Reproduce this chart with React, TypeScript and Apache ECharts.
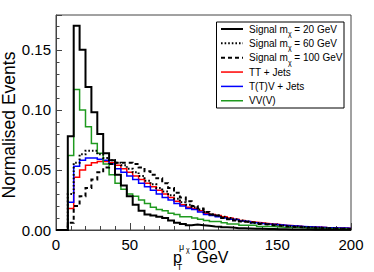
import React, { useEffect, useRef } from "react";
import * as echarts from "echarts";

// Bin lower edges (GeV), 4 GeV bins from 0 to 200, plus the upper edge 200
const binEdges = [
  0, 4, 8, 12, 16, 20, 24, 28, 32, 36, 40, 44, 48, 52, 56, 60, 64, 68, 72, 76,
  80, 84, 88, 92, 96, 100, 104, 108, 112, 116, 120, 124, 128, 132, 136, 140, 144, 148, 152, 156,
  160, 164, 168, 172, 176, 180, 184, 188, 192, 196, 200,
];

const signal20 = [
  0, 0, 0.078, 0.170, 0.150, 0.119, 0.098, 0.080, 0.064, 0.058,
  0.046, 0.037, 0.028, 0.021, 0.016, 0.013, 0.012, 0.011, 0.010, 0.008,
  0.006, 0.005, 0.004, 0.0045, 0.004, 0.0035, 0.003, 0.0028, 0.0022, 0.002,
  0.0015, 0.0015, 0.0012, 0.001, 0.001, 0.0008, 0.0008, 0.0006, 0.0006, 0.0005,
  0.0005, 0.0004, 0.0004, 0.0003, 0.0003, 0.0003, 0.0002, 0.0002, 0.0002, 0.0002,
];

const signal60 = [
  0, 0, 0.030, 0.056, 0.063, 0.066, 0.066, 0.063, 0.060, 0.058,
  0.056, 0.054, 0.051, 0.048, 0.045, 0.041, 0.038, 0.035, 0.032, 0.029,
  0.026, 0.023, 0.021, 0.019, 0.017, 0.015, 0.013, 0.012, 0.011, 0.010,
  0.009, 0.008, 0.007, 0.006, 0.0055, 0.005, 0.0045, 0.004, 0.0035, 0.003,
  0.003, 0.0025, 0.0022, 0.002, 0.0018, 0.0016, 0.0014, 0.0012, 0.001, 0.001,
];

const signal100 = [
  0, 0, 0.006, 0.020, 0.028, 0.035, 0.042, 0.048, 0.052, 0.055,
  0.056, 0.056, 0.056, 0.055, 0.052, 0.049, 0.046, 0.043, 0.039, 0.035,
  0.031, 0.027, 0.024, 0.020, 0.018, 0.015, 0.013, 0.012, 0.010, 0.009,
  0.008, 0.007, 0.0065, 0.006, 0.005, 0.0045, 0.004, 0.0035, 0.003, 0.0028,
  0.0025, 0.0022, 0.002, 0.0018, 0.0016, 0.0014, 0.0012, 0.001, 0.001, 0.0008,
];

const ttJets = [
  0, 0, 0.018, 0.044, 0.050, 0.054, 0.056, 0.057, 0.057, 0.056,
  0.054, 0.051, 0.048, 0.045, 0.042, 0.039, 0.036, 0.033, 0.030, 0.027,
  0.024, 0.021, 0.019, 0.018, 0.016, 0.014, 0.013, 0.012, 0.011, 0.010,
  0.009, 0.008, 0.007, 0.0065, 0.006, 0.0055, 0.005, 0.0045, 0.004, 0.0037,
  0.0034, 0.003, 0.0028, 0.0025, 0.0023, 0.002, 0.0019, 0.0017, 0.0016, 0.0015,
];

const ttvJets = [
  0, 0, 0.023, 0.053, 0.058, 0.060, 0.060, 0.059, 0.058, 0.055,
  0.051, 0.048, 0.045, 0.042, 0.039, 0.036, 0.033, 0.030, 0.027, 0.025,
  0.022, 0.020, 0.018, 0.017, 0.015, 0.013, 0.012, 0.011, 0.010, 0.009,
  0.0085, 0.0075, 0.007, 0.006, 0.0055, 0.005, 0.0047, 0.0043, 0.004, 0.0036,
  0.0033, 0.003, 0.0028, 0.0025, 0.0023, 0.002, 0.0019, 0.0017, 0.0016, 0.0015,
];

const vvv = [
  0, 0, 0.062, 0.117, 0.100, 0.086, 0.072, 0.064, 0.055, 0.046,
  0.039, 0.034, 0.030, 0.028, 0.025, 0.022, 0.019, 0.017, 0.016, 0.014,
  0.013, 0.011, 0.011, 0.010, 0.009, 0.008, 0.007, 0.007, 0.006, 0.005,
  0.005, 0.004, 0.004, 0.004, 0.003, 0.003, 0.003, 0.0025, 0.0022, 0.002,
  0.002, 0.0018, 0.0016, 0.0015, 0.0013, 0.0012, 0.0011, 0.001, 0.001, 0.0009,
];

const xTitleMain = "p";
const xTitleSub = "T";
const xTitleSup = "μ";
const xTitleSupSub = "χ";
const xTitleUnit = "GeV";
const yTitle = "Normalised Events";

const legendTexts = [
  "{a|Signal m}{s|χ}{a| = 20 GeV}",
  "{a|Signal m}{s|χ}{a| = 60 GeV}",
  "{a|Signal m}{s|χ}{a| = 100 GeV}",
  "{a|TT + Jets}",
  "{a|T(T)V + Jets}",
  "{a|VV(V)}",
];

const FONT = '"Liberation Sans", Arial, Helvetica, sans-serif';

type SeriesDef = {
  name: string;
  values: number[];
  color: string;
  width: number;
  dash: number[] | "solid";
};

const seriesDefs: SeriesDef[] = [
  { name: "TT + Jets", values: ttJets, color: "#ff0000", width: 1.5, dash: "solid" },
  { name: "T(T)V + Jets", values: ttvJets, color: "#0000ff", width: 1.5, dash: "solid" },
  { name: "VV(V)", values: vvv, color: "#1f9a1f", width: 1.5, dash: "solid" },
  { name: "Signal 100", values: signal100, color: "#000000", width: 2, dash: [4, 3] },
  { name: "Signal 60", values: signal60, color: "#000000", width: 2, dash: [1.6, 2] },
  { name: "Signal 20", values: signal20, color: "#000000", width: 2, dash: "solid" },
];

const legendStyles: { color: string; width: number; dash: number[] | null }[] = [
  { color: "#000000", width: 2, dash: null },
  { color: "#000000", width: 2, dash: [1.6, 2] },
  { color: "#000000", width: 2, dash: [4, 3] },
  { color: "#ff0000", width: 1.5, dash: null },
  { color: "#0000ff", width: 1.5, dash: null },
  { color: "#1f9a1f", width: 1.5, dash: null },
];

function toSteps(values: number[]): [number, number][] {
  const pts: [number, number][] = values.map((v, i) => [binEdges[i], v]);
  pts.push([binEdges[binEdges.length - 1], values[values.length - 1]]);
  return pts;
}

function txt(text: string, x: number, y: number, fontSize: number, lineHeight: number): any {
  return {
    type: "text",
    x,
    y,
    style: {
      text,
      fontSize,
      lineHeight,
      fontFamily: FONT,
      fill: "#000",
      align: "left",
      verticalAlign: "middle",
    },
  };
}

function buildOption(): any {
  const legendTop = 29;
  const legendStep = 14.35;
  const legendGraphics: any[] = [
    {
      type: "rect",
      shape: { x: 216.5, y: 22, width: 127.5, height: 86 },
      style: { fill: "#ffffff", stroke: "#000000", lineWidth: 1 },
      z: 10,
    },
  ];
  legendTexts.forEach((t, i) => {
    const y = legendTop + i * legendStep;
    const st = legendStyles[i];
    legendGraphics.push({
      type: "line",
      shape: { x1: 221, y1: y, x2: 243, y2: y },
      style: {
        stroke: st.color,
        lineWidth: st.width,
        lineDash: st.dash || undefined,
      },
      z: 11,
    });
    legendGraphics.push({
      type: "text",
      x: 249,
      y: y,
      z: 11,
      style: {
        text: t,
        verticalAlign: "middle",
        align: "left",
        fill: "#000",
        rich: {
          a: { fontSize: 10, fontFamily: FONT, fill: "#000", lineHeight: 16 },
          s: { fontSize: 7, fontFamily: FONT, fill: "#000", lineHeight: 9, verticalAlign: "bottom" },
        },
      },
    });
  });

  const titleGraphics: any[] = [
    {
      type: "text",
      x: 9,
      y: 125,
      rotation: Math.PI / 2,
      style: { text: yTitle, fontSize: 17.5, fontFamily: FONT, fill: "#000", align: "center", verticalAlign: "middle" },
    },
    txt(xTitleMain, 173, 257, 16, 10),
    txt(xTitleSub, 176.8, 267.3, 9, 6),
    txt(xTitleSup, 179, 246.5, 9, 6),
    txt(xTitleSupSub, 186, 249.3, 7, 4),
    txt(xTitleUnit, 196.5, 257, 16, 10),
  ];

  const yMax = 0.179;

  return {
    animation: false,
    backgroundColor: "#ffffff",
    textStyle: { fontFamily: FONT },
    grid: {
      left: 56,
      right: 23,
      top: 15,
      bottom: 42,
      show: true,
      borderColor: "#444",
      borderWidth: 1,
      backgroundColor: "transparent",
    },
    xAxis: {
      type: "value",
      min: 0,
      max: 200,
      interval: 50,
      axisLine: { show: true, onZero: false, lineStyle: { color: "#444", width: 1 } },
      axisTick: { show: true, inside: true, length: 7, lineStyle: { color: "#444" } },
      minorTick: { show: true, splitNumber: 5, length: 4, lineStyle: { color: "#444" } },
      axisLabel: { fontSize: 15, lineHeight: 13, color: "#000", margin: 8, fontFamily: FONT },
      splitLine: { show: false },
      minorSplitLine: { show: false },
    },
    yAxis: [
      {
        type: "value",
        min: 0,
        max: yMax,
        interval: 0.01,
        axisLine: { show: true, onZero: false, lineStyle: { color: "#444", width: 1 } },
        axisTick: { show: true, inside: true, length: 3.5, lineStyle: { color: "#444" } },
        axisLabel: {
          fontSize: 15,
          color: "#000",
          margin: 5,
          fontFamily: FONT,
          showMaxLabel: false,
          formatter: (v: number) => {
            const k = v / 0.05;
            return Math.abs(k - Math.round(k)) < 1e-6 ? v.toFixed(2) : "";
          },
        },
        splitLine: { show: false },
      },
      {
        type: "value",
        min: 0,
        max: yMax,
        interval: 0.05,
        position: "left",
        axisLine: { show: false },
        axisTick: { show: true, inside: true, length: 6, lineStyle: { color: "#444" } },
        axisLabel: { show: false },
        splitLine: { show: false },
      },
    ],
    series: seriesDefs.map((s) => ({
      name: s.name,
      type: "line",
      step: "end",
      yAxisIndex: 0,
      symbol: "none",
      showSymbol: false,
      data: toSteps(s.values),
      lineStyle: { color: s.color, width: s.width, type: s.dash, cap: "butt", join: "miter" },
      itemStyle: { color: s.color },
      emphasis: { disabled: true },
      silent: true,
    })),
    graphic: [...legendGraphics, ...titleGraphics],
  };
}

export default function App() {
  const ref = useRef<HTMLDivElement>(null);
  useEffect(() => {
    if (!ref.current) return;
    const chart = echarts.init(ref.current, null, { renderer: "svg" });
    chart.setOption(buildOption());
    return () => {
      chart.dispose();
    };
  }, []);
  return (
    <div
      ref={ref}
      style={{ position: "absolute", left: 0, top: 0, width: 374, height: 272, background: "#fff" }}
    />
  );
}
